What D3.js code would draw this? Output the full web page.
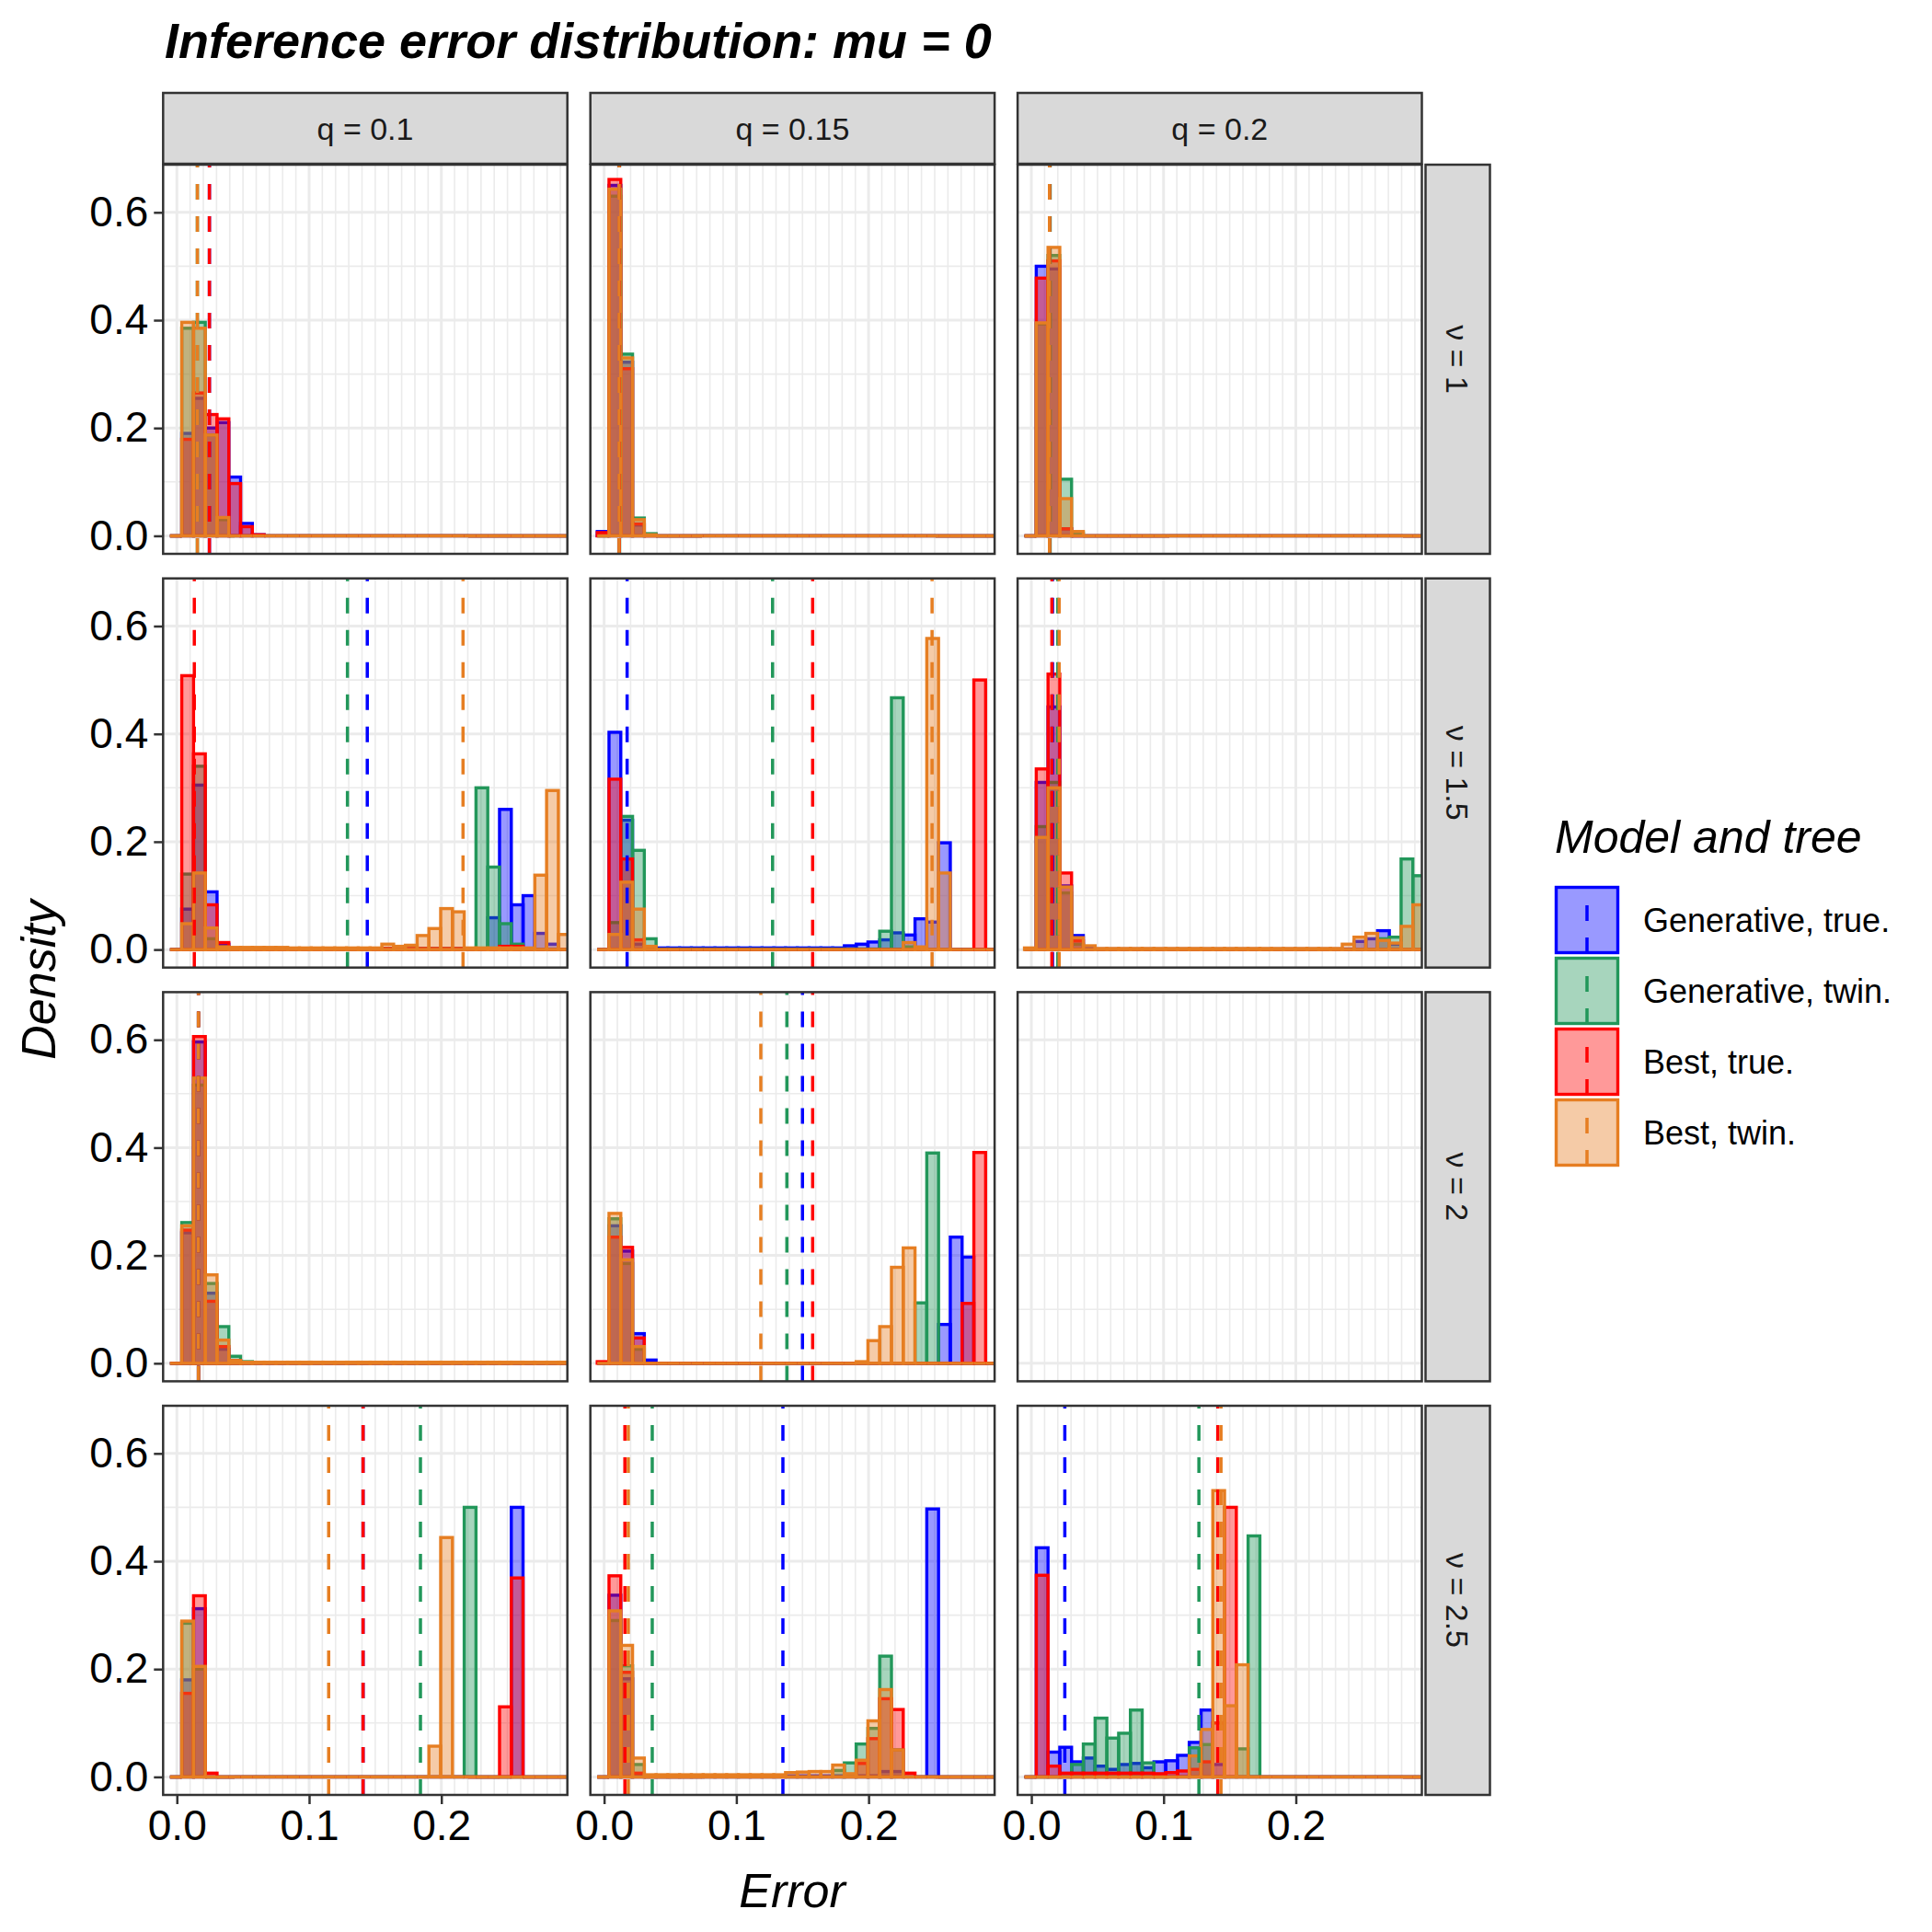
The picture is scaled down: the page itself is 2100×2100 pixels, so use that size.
<!DOCTYPE html>
<html>
<head>
<meta charset="utf-8">
<script src="https://cdn.jsdelivr.net/npm/d3@7"></script>
<style>
  body { margin: 0; background: #fff; }
  text { font-family: "Liberation Sans", Arial, sans-serif; }
</style>
</head>
<body>
<svg id="chart" width="2100" height="2100"></svg>
<script>
// histogram bins: bin k spans binStart + k*binWidth
const binStart = -0.0052;
const binWidth = 0.0089;

const qLabels = ['q = 0.1', 'q = 0.15', 'q = 0.2'];
const nuLabels = ['ν = 1', 'ν = 1.5', 'ν = 2', 'ν = 2.5'];
const seriesNames = ['Generative, true.', 'Generative, twin.', 'Best, true.', 'Best, twin.'];
const seriesColors = ['#0000FF', '#22975A', '#FF0000', '#E67E22'];
const xTicks = [0, 0.1, 0.2];
const yTicks = [0, 0.2, 0.4, 0.6];

// densities per bin (k = 0..33); order: gen true, gen twin, best true, best twin
const v1q10_gt = [0,.19,.255,.20,.21,.109,.023,.002,0,0,0,0,0,0,0,0,0,0,0,0,0,0,0,0,0,0,0,0,0,0,0,0,0,0];
const v1q10_gw = [0,.385,.396,.187,.03,0,0,0,0,0,0,0,0,0,0,0,0,0,0,0,0,0,0,0,0,0,0,0,0,0,0,0,0,0];
const v1q10_bt = [0,.179,.265,.225,.217,.097,.017,.002,0,0,0,0,0,0,0,0,0,0,0,0,0,0,0,0,0,0,0,0,0,0,0,0,0,0];
const v1q10_bw = [0,.396,.385,.187,.034,0,0,0,0,0,0,0,0,0,0,0,0,0,0,0,0,0,0,0,0,0,0,0,0,0,0,0,0,0];

const v1q15_gt = [.008,.65,.322,.02,.003,0,0,0,0,0,0,0,0,0,0,0,0,0,0,0,0,0,0,0,0,0,0,0,0,0,0,0,0,0];
const v1q15_gw = [0,.63,.337,.033,.004,0,0,0,0,0,0,0,0,0,0,0,0,0,0,0,0,0,0,0,0,0,0,0,0,0,0,0,0,0];
const v1q15_bt = [.006,.661,.31,.022,0,0,0,0,0,0,0,0,0,0,0,0,0,0,0,0,0,0,0,0,0,0,0,0,0,0,0,0,0,0];
const v1q15_bw = [0,.643,.33,.03,.002,0,0,0,0,0,0,0,0,0,0,0,0,0,0,0,0,0,0,0,0,0,0,0,0,0,0,0,0,0];

const v1q20_gt = [0,.50,.495,.013,0,0,0,0,0,0,0,0,0,0,0,0,0,0,0,0,0,0,0,0,0,0,0,0,0,0,0,0,0,0];
const v1q20_gw = [0,.393,.52,.105,.005,0,0,0,0,0,0,0,0,0,0,0,0,0,0,0,0,0,0,0,0,0,0,0,0,0,0,0,0,0];
const v1q20_bt = [0,.478,.51,.013,0,0,0,0,0,0,0,0,0,0,0,0,0,0,0,0,0,0,0,0,0,0,0,0,0,0,0,0,0,0];
const v1q20_bw = [0,.395,.535,.069,.008,0,0,0,0,0,0,0,0,0,0,0,0,0,0,0,0,0,0,0,0,0,0,0,0,0,0,0,0,0];

const v15q10_gt = [0,.075,.305,.107,.01,.002,.002,.002,.002,.002,.002,.002,.002,.002,.002,.002,.002,.002,.002,.002,.002,.002,.002,.002,.002,.002,.002,.059,.26,.083,.10,.03,.01,0];
const v15q10_gw = [0,.14,.34,.02,.005,.002,.002,.002,.002,.002,.002,.002,.002,.002,.002,.002,.002,.002,.002,.002,.002,.002,.002,.002,.002,.002,.30,.153,.048,.01,0,0,0,0];
const v15q10_bt = [0,.508,.363,.083,.013,.002,.002,.002,.002,.002,.002,.002,.002,.002,.002,.002,.002,.002,.002,.002,.002,.002,.002,.002,.002,.002,.002,.002,.006,.006,0,0,0,0];
const v15q10_bw = [0,.048,.142,.04,.005,.004,.004,.004,.004,.004,.003,.003,.003,.003,.003,.003,.003,.003,.01,.006,.008,.026,.039,.076,.07,.003,.003,.003,.003,.003,.003,.138,.295,.028];

const v15q15_gt = [0,.403,.24,.01,.003,.003,.003,.003,.003,.003,.003,.003,.003,.003,.003,.003,.003,.003,.003,.003,.003,.007,.01,.014,.018,.031,.027,.057,.051,.198,0,0,0,0];
const v15q15_gw = [0,.05,.247,.184,.02,.001,.001,.001,.001,.001,.001,.001,.001,.001,.001,.001,.001,.001,.001,.001,.001,.001,.001,.001,.034,.467,.005,0,0,0,0,0,0,0];
const v15q15_bt = [0,.316,.168,.018,0,0,0,0,0,0,0,0,0,0,0,0,0,0,0,0,0,0,0,0,0,0,0,0,0,0,0,0,.50,0];
const v15q15_bw = [0,.028,.125,.075,.006,0,0,0,0,0,0,0,0,0,0,0,0,0,0,0,0,0,0,0,0,0,.013,.005,.577,.142,0,0,0,0];

const v15q20_gt = [0,.31,.45,.118,.026,.003,.001,.001,.001,.001,.001,.001,.001,.001,.001,.001,.001,.001,.001,.001,.001,.001,.001,.001,.001,.001,.001,.001,.015,.02,.035,.01,0,0];
const v15q20_gw = [0,.228,.31,.105,.01,0,0,0,0,0,0,0,0,0,0,0,0,0,0,0,0,0,0,0,0,0,0,0,0,0,.02,.023,.168,.137];
const v15q20_bt = [0,.335,.511,.142,.016,0,0,0,0,0,0,0,0,0,0,0,0,0,0,0,0,0,0,0,0,0,0,0,0,0,0,0,0,0];
const v15q20_bw = [.003,.208,.30,.116,.022,.007,.002,.002,.002,.002,.002,.002,.002,.002,.002,.002,.002,.002,.002,.002,.002,.002,.002,.002,.002,.002,.002,.01,.023,.03,.017,.012,.043,.083];

const v2q10_gt = [0,.242,.596,.13,.026,.003,0,0,0,0,0,0,0,0,0,0,0,0,0,0,0,0,0,0,0,0,0,0,0,0,0,0,0,0];
const v2q10_gw = [0,.261,.516,.148,.068,.013,.003,0,0,0,0,0,0,0,0,0,0,0,0,0,0,0,0,0,0,0,0,0,0,0,0,0,0,0];
const v2q10_bt = [0,.247,.606,.115,.031,.005,0,0,0,0,0,0,0,0,0,0,0,0,0,0,0,0,0,0,0,0,0,0,0,0,0,0,0,0];
const v2q10_bw = [0,.255,.529,.164,.043,.005,.002,.002,.002,.002,.002,.002,.002,.002,.002,.002,.002,.002,.002,.002,.002,.002,.002,.002,.002,.002,.002,.002,.002,.002,.002,.002,.002,.002];

const v2q15_gt = [0,.255,.208,.055,.006,0,0,0,0,0,0,0,0,0,0,0,0,0,0,0,0,0,0,0,0,0,0,0,0,.072,.234,.197,0,0];
const v2q15_gw = [0,.268,.185,.026,0,0,0,0,0,0,0,0,0,0,0,0,0,0,0,0,0,0,0,0,0,0,0,.112,.39,0,0,0,0,0];
const v2q15_bt = [.003,.234,.215,.047,0,0,0,0,0,0,0,0,0,0,0,0,0,0,0,0,0,0,0,0,0,0,0,0,0,0,0,.111,.391,0];
const v2q15_bw = [0,.278,.192,.031,0,0,0,0,0,0,0,0,0,0,0,0,0,0,0,0,0,0,.003,.042,.068,.178,.214,0,0,0,0,0,0,0];

const v25q10_gt = [0,.18,.312,0,0,0,0,0,0,0,0,0,0,0,0,0,0,0,0,0,0,0,0,0,0,0,0,0,0,.50,0,0,0,0];
const v25q10_gw = [0,.285,.20,0,0,0,0,0,0,0,0,0,0,0,0,0,0,0,0,0,0,0,0,0,0,.50,0,0,0,0,0,0,0,0];
const v25q10_bt = [0,.155,.336,.007,0,0,0,0,0,0,0,0,0,0,0,0,0,0,0,0,0,0,0,0,0,0,0,0,.13,.369,0,0,0,0];
const v25q10_bw = [0,.289,.205,0,0,0,0,0,0,0,0,0,0,0,0,0,0,0,0,0,0,0,.057,.444,0,0,0,0,0,0,0,0,0,0];

const v25q15_gt = [0,.337,.182,.004,.002,.002,.002,.002,.002,.002,.002,.002,.002,.002,.002,.002,.002,.002,.002,.002,.002,.002,.002,.002,.01,.01,0,0,.497,0,0,0,0,0];
const v25q15_gw = [0,.29,.206,.023,0,0,0,0,0,0,0,0,0,0,0,0,0,0,0,0,.012,.026,.061,.09,.224,.05,0,0,0,0,0,0,0,0];
const v25q15_bt = [0,.373,.194,.007,0,0,0,0,0,0,0,0,0,0,0,0,0,0,0,0,0,0,.025,.071,.145,.125,.007,0,0,0,0,0,0,0];
const v25q15_bw = [0,.308,.244,.035,.004,.004,.004,.004,.004,.004,.004,.004,.004,.004,.004,.004,.008,.009,.01,.01,.022,.006,.031,.104,.162,.05,0,0,0,0,0,0,0,0];

const v25q20_gt = [0,.425,.046,.055,.028,.035,.02,.014,.023,.025,.017,.028,.03,.04,.064,.124,.023,0,0,0,0,0,0,0,0,0,0,0,0,0,0,0,0,0];
const v25q20_gw = [0,0,0,0,.023,.061,.109,.072,.081,.124,.026,0,0,0,.054,.06,0,0,.052,.447,0,0,0,0,0,0,0,0,0,0,0,0,0,0];
const v25q20_bt = [0,.374,.02,.007,.007,.007,.007,.007,.007,.007,.007,.006,.008,.011,.014,.028,.10,.50,0,0,0,0,0,0,0,0,0,0,0,0,0,0,0,0];
const v25q20_bw = [0,0,0,0,0,0,0,0,0,0,0,0,0,0,.039,.088,.531,.132,.208,0,0,0,0,0,0,0,0,0,0,0,0,0,0,0];

// mean error per panel (dashed lines), same series order
const v1q10_mean = [.0246, .0155, .0246, .0155];
const v1q15_mean = [.0113, .0117, .0115, .0113];
const v1q20_mean = [.0137, .0142, .0137, .0137];
const v15q10_mean = [.144, .129, .0132, .2164];
const v15q15_mean = [.0174, .1274, .1577, .248];
const v15q20_mean = [.016, .020, .0155, .021];
const v2q10_mean = [.0163, .0163, .0163, .0163];
const v2q15_mean = [.150, .1382, .1577, .1185];
const v25q10_mean = [.1408, .1842, .1408, .1148];
const v25q15_mean = [.1352, .0364, .0157, .0183];
const v25q20_mean = [.0253, .1267, .141, .1434];

const panels = [
  [[v1q10_gt, v1q10_gw, v1q10_bt, v1q10_bw], v1q10_mean],
  [[v1q15_gt, v1q15_gw, v1q15_bt, v1q15_bw], v1q15_mean],
  [[v1q20_gt, v1q20_gw, v1q20_bt, v1q20_bw], v1q20_mean],
  [[v15q10_gt, v15q10_gw, v15q10_bt, v15q10_bw], v15q10_mean],
  [[v15q15_gt, v15q15_gw, v15q15_bt, v15q15_bw], v15q15_mean],
  [[v15q20_gt, v15q20_gw, v15q20_bt, v15q20_bw], v15q20_mean],
  [[v2q10_gt, v2q10_gw, v2q10_bt, v2q10_bw], v2q10_mean],
  [[v2q15_gt, v2q15_gw, v2q15_bt, v2q15_bw], v2q15_mean],
  [null, null],
  [[v25q10_gt, v25q10_gw, v25q10_bt, v25q10_bw], v25q10_mean],
  [[v25q15_gt, v25q15_gw, v25q15_bt, v25q15_bw], v25q15_mean],
  [[v25q20_gt, v25q20_gw, v25q20_bt, v25q20_bw], v25q20_mean]
];

const svg = d3.select('#chart');
const colLeft = [177.3, 641.7, 1106.1];
const rowTop = [179, 628.7, 1078.4, 1528];
const pw = 439.4, ph = 423;
const fillOpacity = 0.4;

const x = d3.scaleLinear().domain([-0.0104, 0.2953]).range([0, pw]);
const y = d3.scaleLinear().domain([-0.0334, 0.6884]).range([ph, 0]);

// title
svg.append('text').attr('x', 179).attr('y', 63)
  .attr('font-size', 54).attr('font-weight', 'bold').attr('font-style', 'italic')
  .text('Inference error distribution: mu = 0');

panels.forEach((p, i) => {
  const r = Math.floor(i / 3), c = i % 3;
  const g = svg.append('g').attr('transform', `translate(${colLeft[c]},${rowTop[r]})`);
  const clipId = 'clip' + i;
  g.append('clipPath').attr('id', clipId).append('rect').attr('width', pw).attr('height', ph);

  // grid
  const grid = g.append('g');
  d3.range(0, 30).forEach(j => {
    const v = j / 100;
    if (x(v) > pw) return;
    grid.append('line').attr('x1', x(v)).attr('x2', x(v)).attr('y1', 0).attr('y2', ph)
      .attr('stroke', '#EBEBEB').attr('stroke-width', j % 10 === 0 ? 3 : 1.6);
  });
  [0, 0.1, 0.2, 0.3, 0.4, 0.5, 0.6].forEach(v => {
    grid.append('line').attr('x1', 0).attr('x2', pw).attr('y1', y(v)).attr('y2', y(v))
      .attr('stroke', '#EBEBEB').attr('stroke-width', yTicks.includes(v) ? 3 : 1.6);
  });

  const plot = g.append('g').attr('clip-path', `url(#${clipId})`);
  if (p[0]) {
    p[0].forEach((vals, s) => {
      const sg = plot.append('g');
      vals.forEach((d, k) => {
        const x0 = x(binStart + k * binWidth), x1 = x(binStart + (k + 1) * binWidth);
        if (d > 0) {
          sg.append('rect').attr('x', x0).attr('width', x1 - x0)
            .attr('y', y(d)).attr('height', y(0) - y(d))
            .attr('fill', seriesColors[s]).attr('fill-opacity', fillOpacity)
            .attr('stroke', seriesColors[s]).attr('stroke-width', 3.4);
        } else {
          sg.append('line').attr('x1', x0).attr('x2', x1).attr('y1', y(0)).attr('y2', y(0))
            .attr('stroke', seriesColors[s]).attr('stroke-width', 3.4);
        }
      });
    });
    p[1].forEach((m, s) => {
      plot.append('line').attr('x1', x(m)).attr('x2', x(m)).attr('y1', ph).attr('y2', 0)
        .attr('stroke', seriesColors[s]).attr('stroke-width', 3.5)
        .attr('stroke-dasharray', '17,18');
    });
  }

  g.append('rect').attr('width', pw).attr('height', ph)
    .attr('fill', 'none').attr('stroke', '#333').attr('stroke-width', 2.5);

  // top strips
  if (r === 0) {
    g.append('rect').attr('x', 0).attr('y', -78).attr('width', pw).attr('height', 77)
      .attr('fill', '#D9D9D9').attr('stroke', '#333').attr('stroke-width', 2.5);
    g.append('text').attr('x', pw / 2).attr('y', -39).attr('dy', '0.36em')
      .attr('text-anchor', 'middle').attr('font-size', 34).attr('fill', '#1A1A1A')
      .text(qLabels[c]);
  }
  // right strips
  if (c === 2) {
    g.append('rect').attr('x', pw + 4).attr('y', 0).attr('width', 70).attr('height', ph)
      .attr('fill', '#D9D9D9').attr('stroke', '#333').attr('stroke-width', 2.5);
    g.append('text').attr('transform', `translate(${pw + 39},${ph / 2}) rotate(90)`)
      .attr('dy', '0.36em').attr('text-anchor', 'middle').attr('font-size', 34)
      .attr('fill', '#1A1A1A').text(nuLabels[r]);
  }
  // y axis
  if (c === 0) {
    const ax = g.append('g').call(d3.axisLeft(y).tickValues(yTicks).tickFormat(d3.format('.1f'))
      .tickSize(10).tickPadding(6));
    ax.select('.domain').remove();
    ax.selectAll('line').attr('stroke', '#333').attr('stroke-width', 2.5);
    ax.selectAll('text').attr('font-size', 46).attr('fill', '#000')
      .attr('font-family', '"Liberation Sans", Arial, sans-serif');
  }
  // x axis
  if (r === 3) {
    const ax = g.append('g').attr('transform', `translate(0,${ph})`)
      .call(d3.axisBottom(x).tickValues(xTicks).tickFormat(d3.format('.1f')).tickSize(10).tickPadding(6));
    ax.select('.domain').remove();
    ax.selectAll('line').attr('stroke', '#333').attr('stroke-width', 2.5);
    ax.selectAll('text').attr('font-size', 46).attr('fill', '#000')
      .attr('font-family', '"Liberation Sans", Arial, sans-serif');
  }
});

// axis titles
svg.append('text').attr('transform', 'translate(60,1065) rotate(-90)')
  .attr('text-anchor', 'middle').attr('font-size', 52).attr('font-style', 'italic').text('Density');
svg.append('text').attr('x', 861).attr('y', 2073)
  .attr('text-anchor', 'middle').attr('font-size', 52).attr('font-style', 'italic').text('Error');

// legend
const legend = svg.append('g').attr('transform', 'translate(1690,0)');
legend.append('text').attr('x', 0).attr('y', 927).attr('font-size', 50).attr('font-style', 'italic')
  .text('Model and tree');
seriesNames.forEach((name, s) => {
  const ky = 963 + s * 77;
  legend.append('rect').attr('x', 1.5).attr('y', ky + 1.5).attr('width', 67).attr('height', 71)
    .attr('fill', seriesColors[s]).attr('fill-opacity', fillOpacity)
    .attr('stroke', seriesColors[s]).attr('stroke-width', 3.4);
  legend.append('line').attr('x1', 35).attr('x2', 35).attr('y1', ky + 73).attr('y2', ky)
    .attr('stroke', seriesColors[s]).attr('stroke-width', 3.5).attr('stroke-dasharray', '17,18');
  legend.append('text').attr('x', 96).attr('y', ky + 37).attr('dy', '0.36em')
    .attr('font-size', 36).text(name);
});
</script>
</body>
</html>
